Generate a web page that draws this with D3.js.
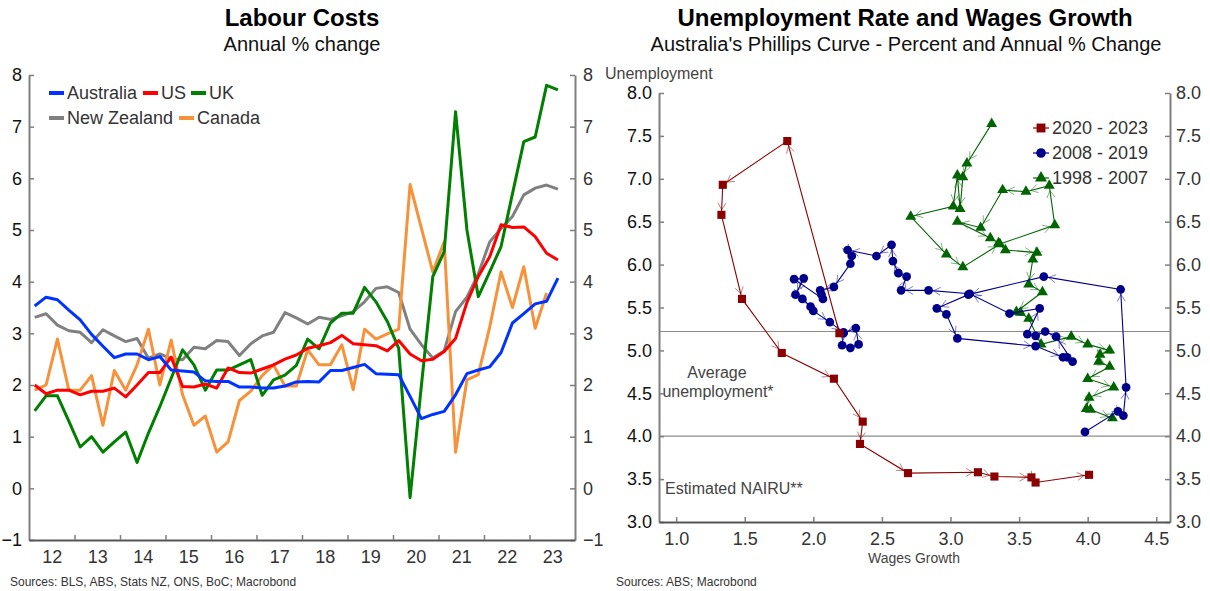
<!DOCTYPE html>
<html>
<head>
<meta charset="utf-8">
<script src="https://cdn.jsdelivr.net/npm/d3@7"></script>
<style>
  body { margin: 0; background: #fff; }
  text { font-family: "Liberation Sans", Arial, sans-serif; }
</style>
</head>
<body>
<svg id="chart" width="1210" height="591"></svg>
<script>
// ---------- Labour costs, annual % change, quarterly from 2012 Q1 ----------
var countries = ["Australia", "US", "UK", "New Zealand", "Canada"];
var countryColors = ["#0033ff", "#ff0000", "#007f00", "#808080", "#f7923a"];

var australia = [3.53, 3.70, 3.65, 3.45, 3.26, 2.98, 2.75, 2.53, 2.60, 2.60, 2.49, 2.55,
  2.29, 2.27, 2.25, 2.08, 2.07, 2.07, 1.96, 1.96, 1.94, 1.94, 1.98, 2.06,
  2.07, 2.06, 2.28, 2.28, 2.34, 2.40, 2.22, 2.21, 2.20, 1.78, 1.35, 1.43,
  1.49, 1.81, 2.22, 2.29, 2.35, 2.63, 3.20, 3.38, 3.57, 3.62, 4.07];
var us = [2.00, 1.83, 1.90, 1.90, 1.81, 1.88, 1.88, 1.94, 1.77, 2.00, 2.24, 2.24,
  2.54, 1.97, 1.96, 2.02, 1.94, 2.33, 2.24, 2.23, 2.31, 2.39, 2.50, 2.58,
  2.71, 2.76, 2.82, 2.96, 2.80, 2.78, 2.76, 2.66, 2.86, 2.60, 2.47, 2.50,
  2.65, 2.90, 3.60, 4.10, 4.48, 5.10, 5.05, 5.06, 4.87, 4.55, 4.42];
var uk = [1.50, 1.79, 1.79, 1.30, 0.80, 1.00, 0.70, 0.90, 1.09, 0.50, 1.07, 1.58,
  2.13, 2.68, 2.39, 1.90, 2.29, 2.29, 2.39, 2.49, 1.80, 2.10, 2.19, 2.38,
  2.89, 2.70, 3.20, 3.39, 3.39, 3.89, 3.61, 3.23, 2.71, -0.18, 2.00, 4.10,
  4.58, 7.29, 5.00, 3.71, 4.19, 4.68, 5.70, 6.71, 6.80, 7.80, 7.71];
var newZealand = [3.31, 3.38, 3.16, 3.05, 3.02, 2.82, 3.07, 2.95, 2.84, 2.90, 2.52, 2.60,
  2.51, 2.49, 2.73, 2.70, 2.86, 2.84, 2.57, 2.80, 2.95, 3.02, 3.40, 3.30,
  3.18, 3.31, 3.27, 3.34, 3.42, 3.61, 3.87, 3.90, 3.79, 3.08, 2.78, 2.52,
  2.66, 3.42, 3.70, 4.15, 4.77, 5.03, 5.26, 5.68, 5.81, 5.87, 5.79];
var canada = [1.90, 2.00, 2.89, 1.90, 1.90, 2.18, 1.22, 2.28, 1.90, 2.39, 3.08, 2.00,
  2.87, 1.81, 1.22, 1.40, 0.70, 0.90, 1.70, 1.88, 2.18, 2.39, 1.98, 1.98,
  2.68, 2.39, 2.39, 2.78, 1.91, 3.08, 2.89, 2.99, 3.08, 5.88, 5.03, 4.19,
  4.77, 0.70, 2.10, 2.20, 3.12, 4.19, 3.50, 4.29, 3.10, 3.78];
var labourSeries = [australia, us, uk, newZealand, canada];
var yearLabels = ["12", "13", "14", "15", "16", "17", "18", "19", "20", "21", "22", "23"];

// ---------- Phillips curve: wages growth (x) vs unemployment (y) ----------
var wages2020 = [2.19, 1.81, 1.34, 1.33, 1.48, 1.77, 2.15, 2.36, 2.34, 2.69, 3.20, 3.32, 3.59, 3.62, 4.01];
var unemp2020 = [5.20, 7.44, 6.93, 6.58, 5.60, 4.97, 4.67, 4.17, 3.91, 3.57, 3.58, 3.53, 3.52, 3.46, 3.55];

var wages2008 = [3.98, 4.22, 4.26, 4.28, 4.24, 3.68, 3.13, 2.90, 2.97, 3.05, 3.62, 3.82,
  3.85, 3.89, 3.77, 3.69, 3.62, 3.56, 3.65, 3.43, 3.14, 2.84, 2.64, 2.68,
  2.62, 2.58, 2.57, 2.46, 2.25, 2.28, 2.27, 2.15, 2.05, 2.06, 2.07, 1.86,
  1.93, 1.87, 1.92, 1.98, 2.00, 2.12, 2.22, 2.21, 2.27, 2.33, 2.31, 2.22];
var unemp2008 = [4.05, 4.29, 4.24, 4.57, 5.71, 5.86, 5.65, 5.49, 5.42, 5.14, 5.05, 4.92,
  4.92, 4.87, 5.16, 5.22, 5.17, 5.19, 5.49, 5.43, 5.66, 5.70, 5.70, 5.86,
  5.90, 6.04, 6.23, 6.10, 6.17, 6.10, 6.01, 5.74, 5.70, 5.65, 5.60, 5.83,
  5.84, 5.65, 5.60, 5.51, 5.46, 5.33, 5.21, 5.06, 5.03, 5.07, 5.26, 5.20];

var wages1998 = [3.30, 3.12, 3.09, 3.07, 3.05, 3.02, 2.71, 2.97, 3.09, 3.36, 3.76, 3.72, 3.55,
  3.38, 3.22, 3.05, 3.29, 3.35, 3.40, 3.63, 3.60, 3.57, 3.67, 3.48, 3.51, 3.57,
  3.66, 3.88, 4.00, 4.16, 4.09, 4.08, 4.16, 4.00, 4.19, 4.01, 3.99, 4.02, 4.18];
var unemp1998 = [7.64, 7.18, 7.02, 6.65, 7.04, 6.68, 6.56, 6.12, 5.97, 6.24, 6.46, 6.92, 6.85,
  6.87, 6.43, 6.50, 6.31, 6.25, 6.17, 6.14, 6.06, 5.77, 5.68, 5.45, 5.44, 5.37,
  5.07, 5.16, 5.07, 5.00, 4.95, 4.87, 4.81, 4.67, 4.57, 4.45, 4.32, 4.31, 4.21];

var periods = ["2020 - 2023", "2008 - 2019", "1998 - 2007"];
var periodColors = ["#8b0000", "#00008b", "#006400"];
var periodSymbols = [d3.symbolSquare, d3.symbolCircle, d3.symbolTriangle];
var periodSizes = [66, 60, 52];
var avgUnemployment = 5.22;
var nairu = 4.0;

var svg = d3.select("#chart");

// ======================= Left chart =======================
var left = svg.append("g");

left.append("text").attr("x", 302).attr("y", 26).attr("text-anchor", "middle")
  .style("font-size", "24px").style("font-weight", "bold").attr("fill", "#000")
  .text("Labour Costs");
left.append("text").attr("x", 302).attr("y", 51).attr("text-anchor", "middle")
  .style("font-size", "20px").attr("fill", "#111")
  .text("Annual % change");

var xL = d3.scaleLinear().domain([2012, 2024]).range([29, 575]);
var yL = d3.scaleLinear().domain([-1, 8]).range([540, 75]);

function quarterX(i) { return xL(2012 + (i + 0.5) / 4); }

var line = d3.line()
  .x(function(d, i) { return quarterX(i); })
  .y(function(d) { return yL(d); });

// draw order: NZ, Canada, UK, US, Australia on top
[3, 4, 2, 1, 0].forEach(function(k) {
  left.append("path")
    .datum(labourSeries[k])
    .attr("fill", "none")
    .attr("stroke", countryColors[k])
    .attr("stroke-width", 3)
    .attr("stroke-linejoin", "round")
    .attr("d", line);
});

function styleAxis(g, labelColor) {
  g.select(".domain").attr("stroke", "#7f7f7f").attr("stroke-width", 2);
  g.selectAll(".tick line").attr("stroke", "#7f7f7f").attr("stroke-width", 1.5);
  g.selectAll(".tick text").attr("fill", labelColor)
    .style("font-size", "18px").style("font-family", "'Liberation Sans', Arial, sans-serif");
}

var yAxisL = left.append("g").attr("transform", "translate(29,0)")
  .call(d3.axisLeft(yL).tickValues(d3.range(-1, 9)).tickSizeInner(-5).tickSizeOuter(0)
    .tickPadding(7).tickFormat(d3.format("d")));
styleAxis(yAxisL, "#111");

var yAxisR = left.append("g").attr("transform", "translate(575,0)")
  .call(d3.axisRight(yL).tickValues(d3.range(-1, 9)).tickSizeInner(-5).tickSizeOuter(0)
    .tickPadding(8).tickFormat(d3.format("d")));
styleAxis(yAxisR, "#333");

var xAxisL = left.append("g").attr("transform", "translate(0,540)")
  .call(d3.axisBottom(xL).tickValues(d3.range(2013, 2024)).tickSizeInner(-5).tickSizeOuter(0)
    .tickFormat(""));
styleAxis(xAxisL, "#333");
xAxisL.select(".domain").attr("stroke", "#555");

var xLabelsL = left.append("g").attr("transform", "translate(0,540)")
  .call(d3.axisBottom(xL).tickValues(d3.range(2012, 2024).map(function(y) { return y + 0.5; }))
    .tickSize(0).tickPadding(10)
    .tickFormat(function(d, i) { return yearLabels[i]; }));
xLabelsL.select(".domain").remove();
styleAxis(xLabelsL, "#333");

// legend
var legendPos = [[49, 93], [143, 93], [191, 93], [49, 118], [179, 118]];
countries.forEach(function(name, k) {
  var g = left.append("g").attr("transform", "translate(" + legendPos[k][0] + "," + legendPos[k][1] + ")");
  g.append("line").attr("x1", 0).attr("x2", 15).attr("y1", 0).attr("y2", 0)
    .attr("stroke", countryColors[k]).attr("stroke-width", 4);
  g.append("text").attr("x", 18).attr("y", 0).attr("dy", "0.35em")
    .style("font-size", "18px").attr("fill", "#333").text(name);
});

left.append("text").attr("x", 10).attr("y", 586)
  .style("font-size", "12px").attr("fill", "#333")
  .text("Sources: BLS, ABS, Stats NZ, ONS, BoC; Macrobond");

// ======================= Right chart =======================
var right = svg.append("g");

right.append("text").attr("x", 905).attr("y", 26).attr("text-anchor", "middle")
  .style("font-size", "24px").style("font-weight", "bold").attr("fill", "#000")
  .text("Unemployment Rate and Wages Growth");
right.append("text").attr("x", 906).attr("y", 51).attr("text-anchor", "middle")
  .style("font-size", "20px").attr("fill", "#111")
  .text("Australia's Phillips Curve - Percent and Annual % Change");

var xR = d3.scaleLinear().domain([0.875, 4.6]).range([659, 1170]);
var yR = d3.scaleLinear().domain([3, 8]).range([522, 93]);

// reference lines
[avgUnemployment, nairu].forEach(function(v) {
  right.append("line").attr("x1", 659).attr("x2", 1170)
    .attr("y1", yR(v)).attr("y2", yR(v))
    .attr("stroke", "#8c8c8c").attr("stroke-width", 1.2);
});
right.append("text").attr("x", 717).attr("y", 378).attr("text-anchor", "middle")
  .style("font-size", "16px").attr("fill", "#444").text("Average");
right.append("text").attr("x", 718).attr("y", 397).attr("text-anchor", "middle")
  .style("font-size", "16px").attr("fill", "#444").text("unemployment*");
right.append("text").attr("x", 665).attr("y", 494)
  .style("font-size", "16px").attr("fill", "#444").text("Estimated NAIRU**");

var yAxisRL = right.append("g").attr("transform", "translate(659,0)")
  .call(d3.axisLeft(yR).tickValues(d3.range(3, 8.5, 0.5)).tickSizeInner(-5).tickSizeOuter(0)
    .tickPadding(7).tickFormat(d3.format(".1f")));
styleAxis(yAxisRL, "#111");

var yAxisRR = right.append("g").attr("transform", "translate(1170,0)")
  .call(d3.axisRight(yR).tickValues(d3.range(3, 8.5, 0.5)).tickSizeInner(-5).tickSizeOuter(0)
    .tickPadding(6).tickFormat(d3.format(".1f")));
styleAxis(yAxisRR, "#333");

var xAxisR = right.append("g").attr("transform", "translate(0,522)")
  .call(d3.axisBottom(xR).tickValues(d3.range(1, 5, 0.5)).tickSizeInner(-5).tickSizeOuter(0)
    .tickPadding(10).tickFormat(d3.format(".1f")));
styleAxis(xAxisR, "#333");
xAxisR.select(".domain").attr("stroke", "#555");

right.append("text").attr("x", 605).attr("y", 79)
  .style("font-size", "16px").attr("fill", "#444").text("Unemployment");
right.append("text").attr("x", 914).attr("y", 563).attr("text-anchor", "middle")
  .style("font-size", "14px").attr("fill", "#444").text("Wages Growth");

right.append("text").attr("x", 616).attr("y", 586)
  .style("font-size", "12px").attr("fill", "#333")
  .text("Sources: ABS; Macrobond");

// scatter paths with arrowheads
var phillips = [
  { w: wages1998, u: unemp1998 },
  { w: wages2008, u: unemp2008 },
  { w: wages2020, u: unemp2020 }
];
var order = [2, 1, 0]; // periods index for each entry in phillips

phillips.forEach(function(s, n) {
  var p = order[n];
  var color = periodColors[p];
  var pts = s.w.map(function(w, i) { return [xR(w), yR(s.u[i])]; });
  var g = right.append("g");

  g.append("path")
    .attr("d", d3.line()(pts))
    .attr("fill", "none").attr("stroke", color).attr("stroke-width", 1.1);

  // open arrowheads at the end of every segment
  var arrows = [];
  for (var i = 1; i < pts.length; i++) {
    var dx = pts[i][0] - pts[i - 1][0], dy = pts[i][1] - pts[i - 1][1];
    var len = Math.sqrt(dx * dx + dy * dy);
    if (len < 6) continue;
    var ux = dx / len, uy = dy / len;
    var tx = pts[i][0] - ux * 5, ty = pts[i][1] - uy * 5;
    var a = Math.PI / 6, L = 8;
    var w1 = [tx - L * (ux * Math.cos(a) - uy * Math.sin(a)), ty - L * (uy * Math.cos(a) + ux * Math.sin(a))];
    var w2 = [tx - L * (ux * Math.cos(a) + uy * Math.sin(a)), ty - L * (uy * Math.cos(a) - ux * Math.sin(a))];
    arrows.push("M" + w1 + "L" + tx + "," + ty + "L" + w2);
  }
  g.append("path").attr("d", arrows.join(""))
    .attr("fill", "none").attr("stroke", color).attr("stroke-width", 1)
    .attr("stroke-opacity", 0.5);

  g.selectAll(".pt").data(pts).enter().append("path")
    .attr("transform", function(d) { return "translate(" + d[0] + "," + d[1] + ")"; })
    .attr("d", d3.symbol().type(periodSymbols[p]).size(periodSizes[p]))
    .attr("fill", color);
});

// legend
periods.forEach(function(name, k) {
  var g = right.append("g").attr("transform", "translate(1033," + (128 + k * 25) + ")");
  g.append("line").attr("x1", 0).attr("x2", 16).attr("stroke", periodColors[k]).attr("stroke-width", 1.2);
  g.append("path").attr("transform", "translate(8,0)")
    .attr("d", d3.symbol().type(periodSymbols[k]).size(periodSizes[k] * 1.2))
    .attr("fill", periodColors[k]);
  g.append("text").attr("x", 19).attr("dy", "0.35em")
    .style("font-size", "18px").attr("fill", "#333").text(name);
});
</script>
</body>
</html>
